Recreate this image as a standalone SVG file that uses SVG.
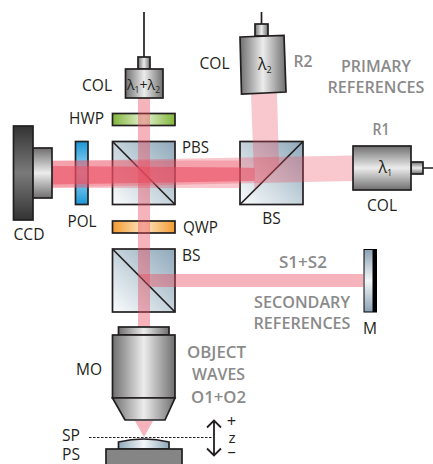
<svg xmlns="http://www.w3.org/2000/svg" width="433" height="464" viewBox="0 0 433 464">
<style>
text{font-family:"Open Sans","Noto Sans","DejaVu Sans",sans-serif;font-size:16.5px;fill:#231f20}
.g{fill:#8a8a8a;font-weight:600}
.m{text-anchor:middle}
.s{stroke:#231f20;stroke-width:1.7}
.fib{stroke:#231f20;stroke-width:1.7;fill:none}
.beam{fill:#ea4a5e;opacity:.42}
.beam2{fill:#ea4a5e;opacity:.3}
.metal{fill:url(#metal)}
.dark{fill:url(#dark)}
.cube{stroke:#231f20;stroke-width:1.7}
.lam{font-size:16px}
.sub{font-size:9px}
</style>
<defs>
<linearGradient id="metal" x1="0" x2="1" y1="0" y2="0"><stop offset="0" stop-color="#6f6f6f"/><stop offset=".5" stop-color="#ececec"/><stop offset="1" stop-color="#6f6f6f"/></linearGradient>
<linearGradient id="metalV" x1="0" x2="0" y1="0" y2="1"><stop offset="0" stop-color="#6f6f6f"/><stop offset=".5" stop-color="#ececec"/><stop offset="1" stop-color="#6f6f6f"/></linearGradient>
<linearGradient id="dark" x1="0" x2="0" y1="0" y2="1"><stop offset="0" stop-color="#333"/><stop offset=".5" stop-color="#7a7a7a"/><stop offset="1" stop-color="#333"/></linearGradient>
<linearGradient id="cube1" x1="0" y1="1" x2="1" y2="0"><stop offset="0" stop-color="#fafcfd"/><stop offset="1" stop-color="#8fa9ba"/></linearGradient>
<linearGradient id="green" x1="0" x2="1" y1="0" y2="0"><stop offset="0" stop-color="#7fb539"/><stop offset=".5" stop-color="#e6f2d5"/><stop offset="1" stop-color="#7fb539"/></linearGradient>
<linearGradient id="orange" x1="0" x2="1" y1="0" y2="0"><stop offset="0" stop-color="#f39a2e"/><stop offset=".5" stop-color="#fde6c4"/><stop offset="1" stop-color="#f39a2e"/></linearGradient>
<linearGradient id="blue" x1="0" x2="0" y1="0" y2="1"><stop offset="0" stop-color="#1a97d8"/><stop offset=".5" stop-color="#a5dcf5"/><stop offset="1" stop-color="#1a97d8"/></linearGradient>
<linearGradient id="mirror" x1="0" x2="0" y1="0" y2="1"><stop offset="0" stop-color="#8ba3b5"/><stop offset=".5" stop-color="#f4f6f7"/><stop offset="1" stop-color="#8ba3b5"/></linearGradient>
<linearGradient id="lens" x1="0" x2="1" y1="0" y2="0"><stop offset="0" stop-color="#8fa9ba"/><stop offset=".5" stop-color="#f4f7f9"/><stop offset="1" stop-color="#8fa9ba"/></linearGradient>
</defs>

<g id="HWP"><rect class="s" x="112.500" y="113.500" width="62.500" height="12" fill="url(#green)"/><text x="86.500" y="124" class="m" textLength="35" lengthAdjust="spacingAndGlyphs">HWP</text></g>
<g id="QWP"><rect class="s" x="112.500" y="221" width="62.500" height="12" fill="url(#orange)"/><text x="183" y="232.500" textLength="35" lengthAdjust="spacingAndGlyphs">QWP</text></g>
<g id="POL"><rect class="s" x="75.500" y="141.500" width="12.500" height="63" fill="url(#blue)"/><text x="82" y="227" class="m" textLength="29" lengthAdjust="spacingAndGlyphs">POL</text></g>
<g id="PBS"><rect class="cube" x="112.500" y="141.500" width="62.500" height="63" fill="url(#cube1)"/><path class="fib" d="M112.500 141.500L175 204.500"/><text x="182" y="153" textLength="27" lengthAdjust="spacingAndGlyphs">PBS</text></g>
<g id="BS1"><rect class="cube" x="240" y="141.500" width="63" height="63" fill="url(#cube1)"/><path class="fib" d="M240 204.500L303 141.500"/><text x="271.500" y="224" class="m" textLength="18.500" lengthAdjust="spacingAndGlyphs">BS</text></g>
<g id="BS2"><rect class="cube" x="112.500" y="249" width="62.500" height="63" fill="url(#cube1)"/><path class="fib" d="M112.500 249L175 312"/><text x="182" y="261" textLength="18.500" lengthAdjust="spacingAndGlyphs">BS</text></g>

<g id="connectors">
<path class="beam" d="M138 98H150V327H138Z"/>
<path class="beam2" d="M52 161L353 155.500V181L52 187.500Z"/>
<path class="beam2" d="M52 160.500H240V188L52 188Z"/>
<path class="beam" d="M52 166L240 167.500 254.500 168V181L52 184.500Z" style="opacity:.55"/>
<path class="beam2" d="M251 94L277 93 279 166 254.500 190Z"/>
<path class="beam" d="M139 274H363V287H152Z"/>
<path class="beam" d="M135 421H153L144 437Z"/>
<path class="fib" d="M144 12V57M261.500 12V24M423 168H433"/>
<path d="M89 437.500H213" fill="none" stroke="#231f20" stroke-width="1" stroke-dasharray="2.500 1.500"/>
<path d="M214 421V455M207 427.500L214 420.500 221 427.500M207 448.500L214 455.500 221 448.500" fill="none" stroke="#231f20" stroke-width="1.800"/>
</g>

<g id="COL1"><rect class="s metal" x="138" y="57" width="12" height="12"/><rect class="s metal" x="125.500" y="69" width="37.500" height="29"/><text x="127" y="90" style="font-size:15px" textLength="33" lengthAdjust="spacingAndGlyphs">λ<tspan class="sub" dy="3">1</tspan><tspan dy="-3">+λ</tspan><tspan class="sub" dy="3">2</tspan></text><text x="97" y="91" class="m" textLength="30" lengthAdjust="spacingAndGlyphs">COL</text></g>
<g id="COL2"><rect class="s metal" x="255" y="24" width="13" height="12"/><path class="s metal" d="M240 37L284 35.500 286 92 241.500 94Z"/><text x="258" y="70" class="lam">λ<tspan class="sub" dy="3">2</tspan></text><text x="214.500" y="69" class="m" textLength="30" lengthAdjust="spacingAndGlyphs">COL</text><text x="293.500" y="67" class="g" textLength="19" lengthAdjust="spacingAndGlyphs">R2</text></g>
<g id="COL3"><rect class="s" x="411" y="162" width="12" height="12" fill="url(#metalV)"/><rect class="s" x="353" y="146" width="58" height="44" fill="url(#metalV)"/><text x="378.500" y="173" class="lam">λ<tspan class="sub" dy="3">1</tspan></text><text x="381" y="135" class="g m" textLength="17" lengthAdjust="spacingAndGlyphs">R1</text><text x="382" y="211" class="m" textLength="30" lengthAdjust="spacingAndGlyphs">COL</text></g>
<g id="CCD"><rect class="s dark" x="13.500" y="126" width="19.500" height="94"/><rect class="s" x="33" y="148" width="19" height="50" fill="url(#metalV)"/><text x="29" y="240" class="m" textLength="31" lengthAdjust="spacingAndGlyphs">CCD</text></g>
<g id="M"><rect x="363.500" y="249" width="13.500" height="63.500" fill="#000"/><rect x="364.500" y="250" width="8" height="61.500" fill="url(#mirror)"/><text x="370" y="334" class="m" textLength="14" lengthAdjust="spacingAndGlyphs">M</text></g>
<g id="MO"><rect class="s metal" x="118.500" y="327" width="50.500" height="8"/><rect class="s metal" x="112.500" y="335" width="62.500" height="63"/><path class="s metal" d="M112.500 398H175L165 420H125Z"/><text x="89" y="375" class="m" textLength="26" lengthAdjust="spacingAndGlyphs">MO</text></g>
<g id="SP"><path class="s" d="M118.500 449V442Q144 436 169 442V449Z" fill="url(#lens)"/><text x="62" y="441" textLength="18" lengthAdjust="spacingAndGlyphs">SP</text></g>
<g id="PS"><rect class="s" x="106" y="449" width="76" height="16" fill="#858585"/><text x="62" y="459.500" style="font-size:15.500px" textLength="18" lengthAdjust="spacingAndGlyphs">PS</text></g>

<g id="labels">
<text x="376" y="72" class="g m" textLength="70" lengthAdjust="spacingAndGlyphs">PRIMARY</text><text x="376" y="93" class="g m" textLength="97" lengthAdjust="spacingAndGlyphs">REFERENCES</text>
<text x="303" y="268" class="g m" textLength="48" lengthAdjust="spacingAndGlyphs">S1+S2</text>
<text x="302" y="308" class="g m" textLength="96" lengthAdjust="spacingAndGlyphs">SECONDARY</text><text x="302" y="329" class="g m" textLength="97" lengthAdjust="spacingAndGlyphs">REFERENCES</text>
<text x="216.500" y="358" class="g m" textLength="59" lengthAdjust="spacingAndGlyphs">OBJECT</text><text x="218.500" y="380" class="g m" textLength="53" lengthAdjust="spacingAndGlyphs">WAVES</text><text x="218.500" y="403" class="g m" textLength="55" lengthAdjust="spacingAndGlyphs">O1+O2</text>
<text x="231.500" y="426.500" class="m">+</text><text x="232" y="443" class="m" style="font-size:15px">z</text><text x="231.500" y="457" class="m">–</text>
</g>
</svg>
